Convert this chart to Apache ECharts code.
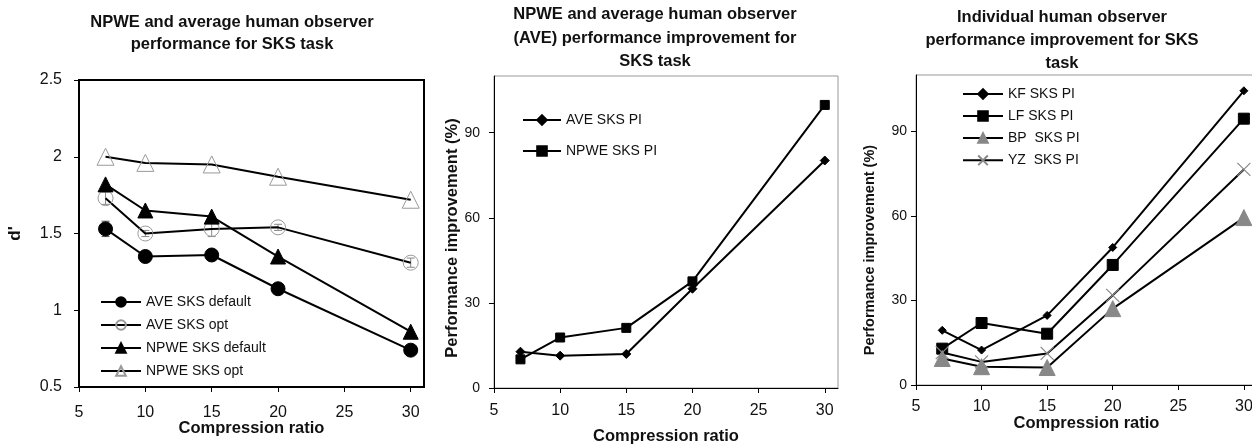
<!doctype html>
<html lang="en">
	<head>
		<meta charset="UTF-8">
		<title>SKS task performance</title>
		<script src="https://cdn.jsdelivr.net/npm/echarts@6/dist/echarts.min.js"></script>
	</head>
	<body style="margin:0">
		<div id="main" style="width: 1252px; height: 445px;"></div>
		<script>
			// compression ratios shared by all three panels
			let ratios = [7, 10, 15, 20, 30]
			let xTicks = [5, 10, 15, 20, 25, 30]

			// panel 1: d'
			let aveDefault = [1.53, 1.35, 1.36, 1.14, 0.74]
			let aveDefaultErr = [0.05, 0.02, 0.03, 0.03, 0.02]
			let aveOpt = [1.73, 1.50, 1.53, 1.54, 1.31]
			let aveOptErr = [0.04, 0.02, 0.05, 0.02, 0.03]
			let npweDefault = [1.82, 1.65, 1.61, 1.35, 0.86]
			let npweOpt = [2.00, 1.96, 1.95, 1.87, 1.72]

			// panel 2: performance improvement (%)
			let avePI = [12.8, 11.4, 12.0, 35.0, 80.2]
			let npwePI = [10.1, 17.8, 21.2, 37.6, 99.8]

			// panel 3: individual observers
			let kfPI = [19.4, 12.4, 24.7, 48.8, 104.4]
			let lfPI = [12.9, 22.0, 18.2, 42.6, 94.5]
			let bpPI = [9.4, 6.5, 6.2, 27.1, 59.4]
			let yzPI = [11.5, 8.2, 11.2, 31.8, 76.5]
			let piTicks = [0, 30, 60, 90]

			const FONT = 'Liberation Sans'
			let pts = (arr) => arr.map((v, i) => [ratios[i], v])
			let errPts = (arr, err) => arr.map((v, i) => [ratios[i], v - err[i], v + err[i]])

			let mCharts = echarts.init(document.getElementById('main'))

			let xAxisBase = (grid, margin, gap, size) => ({
				gridIndex: grid,
				type: 'value',
				min: 5,
				max: 31,
				interval: 5,
				name: 'Compression ratio',
				nameLocation: 'middle',
				nameGap: gap,
				nameMoveOverlap: false,
				nameTextStyle: { fontFamily: FONT, fontWeight: 'bold', fontSize: 16.5, color: '#111' },
				axisLine: { lineStyle: { color: '#000', width: 1 } },
				axisTick: { show: true, length: 5, customValues: xTicks, lineStyle: { color: '#000' } },
				axisLabel: { customValues: xTicks, margin: margin, fontFamily: FONT, fontSize: size, color: '#111' },
				splitLine: { show: false }
			})

			let yAxisPI = (grid, margin) => ({
				gridIndex: grid,
				type: 'value',
				min: 0,
				max: 110,
				interval: 30,
				axisLine: { show: true, lineStyle: { color: '#000', width: 1 } },
				axisTick: { show: true, length: 5, customValues: piTicks, lineStyle: { color: '#000' } },
				axisLabel: { customValues: piTicks, margin: margin, fontFamily: FONT, fontSize: 14, color: '#111' },
				splitLine: { show: false }
			})

			let lineSeries = (name, data, xi, symbol, size, color, filled) => ({
				name: name,
				type: 'line',
				xAxisIndex: xi,
				yAxisIndex: xi,
				data: pts(data),
				symbol: symbol,
				symbolSize: size,
				showAllSymbol: true,
				lineStyle: { color: '#000', width: 2 },
				itemStyle: filled
					? { color: color, borderColor: color, borderWidth: 1 }
					: { color: 'rgba(255,255,255,0)', borderColor: color, borderWidth: 1 },
				emphasis: { disabled: true },
				z: 2
			})

			// small vertical error bars with caps
			let errorSeries = (data, err, color) => ({
				type: 'custom',
				xAxisIndex: 0,
				yAxisIndex: 0,
				data: errPts(data, err),
				z: 1,
				renderItem: (params, api) => {
					let lo = api.coord([api.value(0), api.value(1)])
					let hi = api.coord([api.value(0), api.value(2)])
					let w = 4
					return {
						type: 'group',
						children: [
							{ type: 'line', shape: { x1: lo[0], y1: lo[1], x2: hi[0], y2: hi[1] }, style: { stroke: color, lineWidth: 1 } },
							{ type: 'line', shape: { x1: lo[0] - w, y1: lo[1], x2: lo[0] + w, y2: lo[1] }, style: { stroke: color, lineWidth: 1 } },
							{ type: 'line', shape: { x1: hi[0] - w, y1: hi[1], x2: hi[0] + w, y2: hi[1] }, style: { stroke: color, lineWidth: 1 } }
						]
					}
				}
			})

			let titleStyle = (lh) => ({ fontFamily: FONT, fontWeight: 'bold', fontSize: 16.5, color: '#111', lineHeight: lh })
			let legendText = { fontFamily: FONT, fontSize: 14, color: '#111' }

			let crossPath = 'path://M0,0L10,10M10,0L0,10'

			let option = {
				animation: false,
				title: [
					{ text: 'NPWE and average human observer\nperformance for SKS task', left: 232, top: 11, padding: 0, textAlign: 'center', textStyle: titleStyle(22) },
					{ text: 'NPWE and average human observer\n(AVE) performance improvement for\nSKS task', left: 655, top: 3, padding: 0, textAlign: 'center', textStyle: titleStyle(23.5) },
					{ text: 'Individual human observer\nperformance improvement for SKS\ntask', left: 1062, top: 6, padding: 0, textAlign: 'center', textStyle: titleStyle(23) }
				],
				graphic: [
					{
						type: 'text', x: 452, y: 238, rotation: Math.PI / 2,
						style: { text: 'Performance improvement (%)', align: 'center', verticalAlign: 'middle', fontFamily: FONT, fontWeight: 'bold', fontSize: 16.5, fill: '#111' }
					},
					{
						type: 'text', x: 870, y: 250, rotation: Math.PI / 2,
						style: { text: 'Performance improvement (%)', align: 'center', verticalAlign: 'middle', fontFamily: FONT, fontWeight: 'bold', fontSize: 14.5, fill: '#111' }
					}
				],
				legend: [
					{
						data: ['AVE SKS default', 'AVE SKS opt', 'NPWE SKS default', 'NPWE SKS opt'],
						orient: 'vertical', left: 95, top: 290, itemWidth: 40, itemHeight: 12, itemGap: 9,
						textStyle: legendText, selectedMode: false
					},
					{
						data: ['AVE SKS PI', 'NPWE SKS PI'],
						orient: 'vertical', left: 517, top: 108, itemWidth: 38, itemHeight: 12, itemGap: 17,
						textStyle: legendText, selectedMode: false
					},
					{
						data: ['KF SKS PI', 'LF SKS PI', 'BP  SKS PI', 'YZ  SKS PI'],
						orient: 'vertical', left: 957, top: 82, itemWidth: 40, itemHeight: 12, itemGap: 8,
						textStyle: legendText, selectedMode: false
					}
				],
				grid: [
					{ left: 79, top: 80, width: 345, height: 307, outerBoundsMode: 'none', show: true, borderColor: '#000', borderWidth: 2, backgroundColor: 'transparent' },
					{ left: 494, top: 76, width: 344, height: 312, outerBoundsMode: 'none', show: true, borderColor: '#999', borderWidth: 1, backgroundColor: 'transparent' },
					{ left: 916, top: 75, width: 341, height: 310, outerBoundsMode: 'none', show: true, borderColor: '#999', borderWidth: 1, backgroundColor: 'transparent' }
				],
				xAxis: [
					xAxisBase(0, 18, 33, 16),
					xAxisBase(1, 15, 40, 16),
					xAxisBase(2, 14, 30, 16)
				],
				yAxis: [
					{
						gridIndex: 0,
						type: 'value',
						min: 0.5,
						max: 2.5,
						interval: 0.5,
						name: "d'",
						nameLocation: 'middle',
						nameGap: 55,
						nameMoveOverlap: false,
						nameTextStyle: { fontFamily: FONT, fontWeight: 'bold', fontSize: 17, color: '#111' },
						axisLine: { show: true, lineStyle: { color: '#000', width: 1 } },
						axisTick: { show: true, length: 5, lineStyle: { color: '#000' } },
						axisLabel: { margin: 17, fontFamily: FONT, fontSize: 16, color: '#111' },
						splitLine: { show: false }
					},
					yAxisPI(1, 14),
					yAxisPI(2, 9)
				],
				series: [
					errorSeries(aveDefault, aveDefaultErr, '#555'),
					errorSeries(aveOpt, aveOptErr, '#888'),
					lineSeries('AVE SKS default', aveDefault, 0, 'circle', 14, '#000', true),
					lineSeries('AVE SKS opt', aveOpt, 0, 'circle', 15, '#999', false),
					lineSeries('NPWE SKS default', npweDefault, 0, 'triangle', 15, '#000', true),
					lineSeries('NPWE SKS opt', npweOpt, 0, 'triangle', 17, '#999', false),

					lineSeries('AVE SKS PI', avePI, 1, 'diamond', 9, '#000', true),
					lineSeries('NPWE SKS PI', npwePI, 1, 'rect', 9, '#000', true),

					lineSeries('KF SKS PI', kfPI, 2, 'diamond', 8, '#000', true),
					lineSeries('LF SKS PI', lfPI, 2, 'rect', 11, '#000', true),
					lineSeries('BP  SKS PI', bpPI, 2, 'triangle', 16, '#888', true),
					Object.assign(lineSeries('YZ  SKS PI', yzPI, 2, crossPath, 13, '#888', false), {
						itemStyle: { color: 'none', borderColor: '#888', borderWidth: 1.2 }
					})
				]
			}
			mCharts.setOption(option)
		</script>
	</body>
</html>
